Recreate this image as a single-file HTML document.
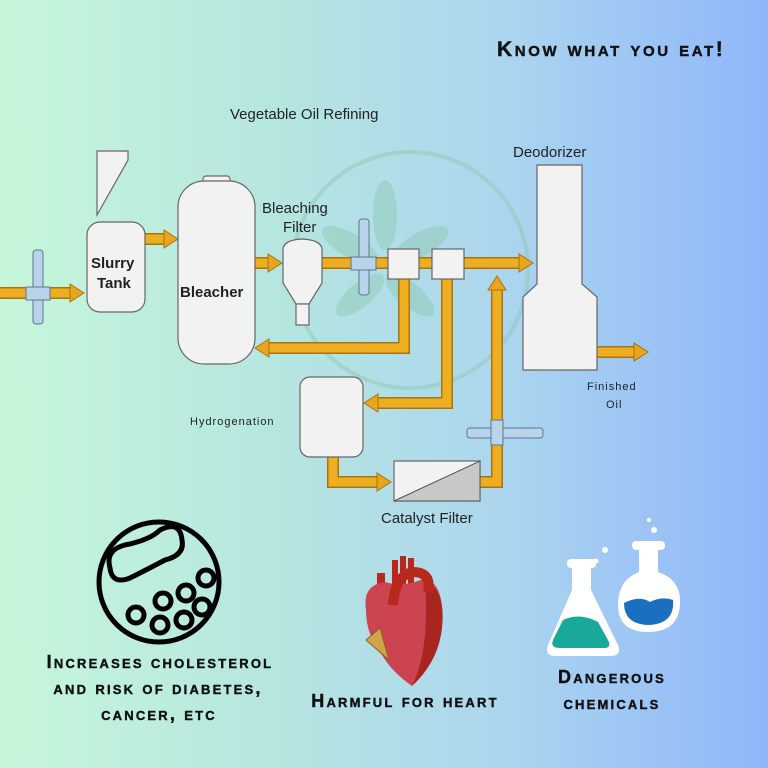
<!DOCTYPE html>
<html><head><meta charset="utf-8"><style>
html,body{margin:0;padding:0}
body{width:768px;height:768px;overflow:hidden;background:linear-gradient(90deg,#c6f7da 0%,#b6e6e0 35%,#acd6ee 65%,#8fb6fa 100%);font-family:"Liberation Sans",sans-serif}
svg{position:absolute;left:0;top:0}
.sc{font-family:"Liberation Sans",sans-serif;font-weight:bold;font-variant:small-caps;letter-spacing:2.2px;fill:#111;stroke:#111;stroke-width:0.4}
.lb{font-family:"Liberation Sans",sans-serif;fill:#222}
</style></head><body>
<svg width="768" height="768" viewBox="0 0 768 768">
<defs>
<g id="ah"><polygon points="0,-9 14,0 0,9" fill="#e8a61e" stroke="#a87410" stroke-width="1"/></g>
</defs>
<circle cx="410" cy="270" r="118" fill="none" stroke="#8fc9b3" stroke-width="4" opacity="0.5"/>
<g fill="#8cc8b0" opacity="0.45">
<ellipse cx="385" cy="215" rx="12" ry="35"/>
<ellipse cx="350" cy="245" rx="12" ry="32" transform="rotate(-60 350 245)"/>
<ellipse cx="420" cy="245" rx="12" ry="32" transform="rotate(60 420 245)"/>
<ellipse cx="360" cy="295" rx="12" ry="30" transform="rotate(-130 360 295)"/>
<ellipse cx="410" cy="295" rx="12" ry="30" transform="rotate(130 410 295)"/>
</g>

<text x="497" y="56" class="sc" font-size="21" style="letter-spacing:2.6px">Know what you eat!</text>
<text x="230" y="119" class="lb" font-size="15">Vegetable Oil Refining</text>
<text x="513" y="157" class="lb" font-size="15">Deodorizer</text>

<g fill="none" stroke="#a87410" stroke-width="12" stroke-linejoin="miter">
<path d="M0 293 H70"/><path d="M145 239 H165"/><path d="M255 263 H270"/>
<path d="M322 263 H520"/><path d="M404 279 V348 H268"/><path d="M447 279 V403 H377"/>
<path d="M333 457 V482 H378"/><path d="M480 482 H497 V290"/><path d="M597 352 H635"/>
</g>
<g fill="none" stroke="#eeae22" stroke-width="9" stroke-linejoin="miter">
<path d="M0 293 H71"/><path d="M145 239 H166"/><path d="M255 263 H271"/>
<path d="M322 263 H521"/><path d="M404 279 V348 H267"/><path d="M447 279 V403 H376"/>
<path d="M333 457 V482 H379"/><path d="M480 482 H497 V289"/><path d="M597 352 H636"/>
</g>
<use href="#ah" transform="translate(70 293)"/>
<use href="#ah" transform="translate(164 239)"/>
<use href="#ah" transform="translate(268 263)"/>
<use href="#ah" transform="translate(519 263)"/>
<use href="#ah" transform="translate(269 348) rotate(180)"/>
<use href="#ah" transform="translate(378 403) rotate(180)"/>
<use href="#ah" transform="translate(377 482)"/>
<use href="#ah" transform="translate(497 290) rotate(-90)"/>
<use href="#ah" transform="translate(634 352)"/>

<g fill="#f2f2f2" stroke="#666" stroke-width="1.2">
<polygon points="97,151 128,151 128,160 97,215"/>
<rect x="87" y="222" width="58" height="90" rx="13"/>
<rect x="203" y="176" width="27" height="8" rx="3"/>
<rect x="178" y="181" width="77" height="183" rx="26"/>
<path d="M283 250 Q283 240 302 239 Q322 240 322 250 V283 L309 304 H296 L283 283 Z"/>
<rect x="296" y="304" width="13" height="21"/>
<rect x="388" y="249" width="31" height="30"/>
<rect x="432" y="249" width="32" height="30"/>
<rect x="300" y="377" width="63" height="80" rx="10"/>
<rect x="394" y="461" width="86" height="40"/>
<polygon points="537,165 582,165 582,284 597,297 597,370 523,370 523,297 537,284"/>
</g>
<polygon points="394,501 480,461 480,501" fill="#c8c8c8" stroke="#555" stroke-width="1"/>
<g fill="#b9d3ea" stroke="#5a7890" stroke-width="1">
<rect x="33" y="250" width="10" height="74" rx="3"/>
<rect x="26" y="287" width="24" height="13"/>
<rect x="359" y="219" width="10" height="76" rx="3"/>
<rect x="351" y="257" width="25" height="13"/>
<rect x="467" y="428" width="76" height="10" rx="3"/>
<rect x="491" y="420" width="12" height="25"/>
</g>
<text x="91" y="268" class="lb" font-size="15" font-weight="bold">Slurry</text>
<text x="97" y="288" class="lb" font-size="15" font-weight="bold">Tank</text>
<text x="180" y="297" class="lb" font-size="15" font-weight="bold">Bleacher</text>
<text x="262" y="213" class="lb" font-size="15">Bleaching</text>
<text x="283" y="232" class="lb" font-size="15">Filter</text>
<text x="190" y="425" class="lb" font-size="11" letter-spacing="1">Hydrogenation</text>
<text x="381" y="523" class="lb" font-size="15">Catalyst Filter</text>
<text x="587" y="390" class="lb" font-size="11" letter-spacing="1">Finished</text>
<text x="606" y="408" class="lb" font-size="11" letter-spacing="1">Oil</text>

<g fill="none" stroke="#000" stroke-width="5">
<circle cx="159" cy="582" r="60"/>
<path d="M110 568 Q105 550 125 545 Q150 540 160 530 Q180 520 182 540 Q185 555 165 560 Q150 568 130 578 Q112 585 110 568Z"/>
<circle cx="186" cy="593" r="8"/><circle cx="206" cy="578" r="8"/><circle cx="163" cy="601" r="8"/>
<circle cx="202" cy="607" r="8"/><circle cx="136" cy="615" r="8"/><circle cx="160" cy="625" r="8"/>
<circle cx="184" cy="620" r="8"/>
</g>
<text x="160" y="668" class="sc" font-size="18" text-anchor="middle">Increases cholesterol</text>
<text x="158" y="694" class="sc" font-size="18" text-anchor="middle">and risk of diabetes,</text>
<text x="159" y="720" class="sc" font-size="18" text-anchor="middle">cancer, etc</text>

<g>
<rect x="377" y="573" width="8" height="26" fill="#b8281c"/>
<rect x="392" y="560" width="6" height="28" fill="#b8281c"/>
<rect x="400" y="556" width="6" height="28" fill="#b8281c"/>
<rect x="408" y="558" width="6" height="28" fill="#b8281c"/>
<path d="M366 610 Q362 585 385 582 Q405 588 425 578 Q445 585 442 625 Q440 660 412 686 Q392 672 382 655 Q366 635 366 610Z" fill="#cc4450"/>
<path d="M425 580 Q446 590 442 628 Q438 662 412 686 Q430 650 425 580Z" fill="#a82620"/>
<path d="M393 605 Q395 575 413 572 Q432 572 428 592" fill="none" stroke="#b8281c" stroke-width="10"/>
<polygon points="366,640 380,628 389,660" fill="#d4a24a" stroke="#8a6020" stroke-width="1"/>
</g>
<text x="405" y="707" class="sc" font-size="18" text-anchor="middle">Harmful for heart</text>

<g>
<path d="M572 565 H591 V590 L618 645 Q622 656 610 656 H556 Q544 656 548 645 L572 590Z" fill="#fff"/>
<path d="M553 640 L563 620 Q580 612 598 622 L608 640 Q612 648 604 648 H560 Q550 648 553 640Z" fill="#18a99a"/>
<rect x="567" y="559" width="29" height="9" rx="4" fill="#fff"/>
<path d="M639 549 H658 V572 Q682 580 680 605 Q678 632 648 632 Q618 632 618 605 Q618 580 639 572Z" fill="#fff"/>
<path d="M624 603 Q640 595 650 602 Q662 596 673 600 Q675 624 648 625 Q624 624 624 603Z" fill="#1a6fc0"/>
<rect x="632" y="541" width="33" height="9" rx="4" fill="#fff"/>
<circle cx="605" cy="550" r="3" fill="#fff"/><circle cx="596" cy="561" r="2.5" fill="#fff"/>
<circle cx="654" cy="530" r="3" fill="#fff"/><circle cx="649" cy="520" r="2" fill="#fff"/>
</g>
<text x="612" y="683" class="sc" font-size="18" text-anchor="middle">Dangerous</text>
<text x="612" y="709" class="sc" font-size="18" text-anchor="middle">chemicals</text>
</svg>
</body></html>
